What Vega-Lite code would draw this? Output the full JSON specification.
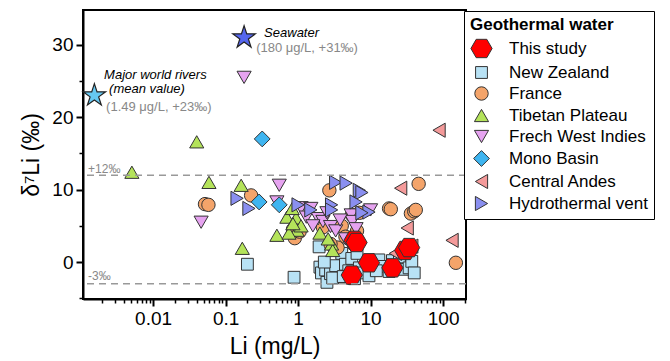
{
  "$schema": "https://vega.github.io/schema/vega-lite/v6.json",
  "width": 383,
  "height": 289,
  "autosize": "none",
  "padding": {"left": 83, "top": 10, "right": 204, "bottom": 62},
  "config": {
    "font": "Liberation Sans",
    "view": {"stroke": "black", "strokeWidth": 2}
  },
  "datasets": {
    "pts": [
      {"group": "New Zealand", "li": 0.20, "d7li": -0.3},
      {"group": "New Zealand", "li": 0.88, "d7li": -2.1},
      {"group": "New Zealand", "li": 1.95, "d7li": 2.1},
      {"group": "New Zealand", "li": 2.0, "d7li": -0.7},
      {"group": "New Zealand", "li": 2.1, "d7li": -1.5},
      {"group": "New Zealand", "li": 2.4, "d7li": -1.1},
      {"group": "New Zealand", "li": 2.5, "d7li": -2.8},
      {"group": "New Zealand", "li": 2.8, "d7li": -1.6},
      {"group": "New Zealand", "li": 3.3, "d7li": -0.5},
      {"group": "New Zealand", "li": 4.0, "d7li": 1.2},
      {"group": "New Zealand", "li": 4.5, "d7li": -0.3},
      {"group": "New Zealand", "li": 5.0, "d7li": -1.2},
      {"group": "New Zealand", "li": 5.5, "d7li": 0.5},
      {"group": "New Zealand", "li": 6.5, "d7li": 1.2},
      {"group": "New Zealand", "li": 7.0, "d7li": -0.8},
      {"group": "New Zealand", "li": 8.0, "d7li": -1.5},
      {"group": "New Zealand", "li": 9.5, "d7li": -1.9},
      {"group": "New Zealand", "li": 11, "d7li": -0.1},
      {"group": "New Zealand", "li": 13, "d7li": 0.3},
      {"group": "New Zealand", "li": 15, "d7li": -0.6},
      {"group": "New Zealand", "li": 18, "d7li": -1.3},
      {"group": "New Zealand", "li": 20, "d7li": 0.2},
      {"group": "New Zealand", "li": 25, "d7li": 0.7},
      {"group": "New Zealand", "li": 28, "d7li": -1.0},
      {"group": "New Zealand", "li": 34, "d7li": -0.8},
      {"group": "New Zealand", "li": 37, "d7li": 0.1},
      {"group": "New Zealand", "li": 40, "d7li": -1.5},
      {"group": "New Zealand", "li": 3.0, "d7li": -2.2},
      {"group": "New Zealand", "li": 4.2, "d7li": -2.0},
      {"group": "New Zealand", "li": 6.0, "d7li": -2.3},
      {"group": "New Zealand", "li": 2.3, "d7li": 0.0},
      {"group": "New Zealand", "li": 12, "d7li": -1.2},
      {"group": "France", "li": 0.052, "d7li": 8.0},
      {"group": "France", "li": 0.058, "d7li": 7.9},
      {"group": "France", "li": 0.225, "d7li": 9.2},
      {"group": "France", "li": 0.85, "d7li": 4.5},
      {"group": "France", "li": 0.9, "d7li": 3.3},
      {"group": "France", "li": 1.05, "d7li": 4.2},
      {"group": "France", "li": 2.7, "d7li": 9.9},
      {"group": "France", "li": 2.2, "d7li": 4.8},
      {"group": "France", "li": 4.0, "d7li": 5.0},
      {"group": "France", "li": 5.5, "d7li": 6.5},
      {"group": "France", "li": 7.0, "d7li": 6.8},
      {"group": "France", "li": 6.5, "d7li": 4.3},
      {"group": "France", "li": 3.5, "d7li": 2.0},
      {"group": "France", "li": 18, "d7li": 7.4},
      {"group": "France", "li": 19, "d7li": 7.3},
      {"group": "France", "li": 36, "d7li": 6.7},
      {"group": "France", "li": 40, "d7li": 7.0},
      {"group": "France", "li": 42, "d7li": 7.2},
      {"group": "France", "li": 46, "d7li": 10.8},
      {"group": "France", "li": 150, "d7li": -0.1},
      {"group": "France", "li": 2.8, "d7li": 2.5},
      {"group": "France", "li": 4.5, "d7li": 3.5},
      {"group": "Tibetan Plateau", "li": 0.0051, "d7li": 12.4},
      {"group": "Tibetan Plateau", "li": 0.040, "d7li": 16.6},
      {"group": "Tibetan Plateau", "li": 0.059, "d7li": 11.0},
      {"group": "Tibetan Plateau", "li": 0.164, "d7li": 10.6},
      {"group": "Tibetan Plateau", "li": 0.17, "d7li": 1.9},
      {"group": "Tibetan Plateau", "li": 0.51, "d7li": 3.7},
      {"group": "Tibetan Plateau", "li": 0.70, "d7li": 6.2},
      {"group": "Tibetan Plateau", "li": 0.94, "d7li": 6.1},
      {"group": "Tibetan Plateau", "li": 0.83, "d7li": 7.4},
      {"group": "Tibetan Plateau", "li": 0.97, "d7li": 4.4},
      {"group": "Tibetan Plateau", "li": 0.75, "d7li": 4.0},
      {"group": "Tibetan Plateau", "li": 1.1, "d7li": 5.0},
      {"group": "Tibetan Plateau", "li": 2.0, "d7li": 4.0},
      {"group": "Tibetan Plateau", "li": 2.9, "d7li": 2.5},
      {"group": "Tibetan Plateau", "li": 3.0, "d7li": 1.6},
      {"group": "Tibetan Plateau", "li": 2.6, "d7li": 3.2},
      {"group": "Tibetan Plateau", "li": 0.85, "d7li": 5.3},
      {"group": "Frech West Indies", "li": 0.18, "d7li": 25.5},
      {"group": "Frech West Indies", "li": 0.046, "d7li": 5.5},
      {"group": "Frech West Indies", "li": 0.55, "d7li": 10.6},
      {"group": "Frech West Indies", "li": 0.51, "d7li": 8.3},
      {"group": "Frech West Indies", "li": 1.1, "d7li": 7.5},
      {"group": "Frech West Indies", "li": 1.5, "d7li": 7.4},
      {"group": "Frech West Indies", "li": 1.3, "d7li": 6.2},
      {"group": "Frech West Indies", "li": 1.9, "d7li": 6.0},
      {"group": "Frech West Indies", "li": 2.2, "d7li": 5.6},
      {"group": "Frech West Indies", "li": 2.8, "d7li": 4.9},
      {"group": "Frech West Indies", "li": 3.3, "d7li": 4.3},
      {"group": "Frech West Indies", "li": 5.4, "d7li": 6.5},
      {"group": "Frech West Indies", "li": 5.6, "d7li": 5.6},
      {"group": "Frech West Indies", "li": 6.3, "d7li": 4.6},
      {"group": "Frech West Indies", "li": 10, "d7li": 7.2},
      {"group": "Frech West Indies", "li": 1.6, "d7li": 5.0},
      {"group": "Frech West Indies", "li": 3.8, "d7li": 5.8},
      {"group": "Frech West Indies", "li": 4.5, "d7li": 3.2},
      {"group": "Frech West Indies", "li": 2.5, "d7li": 6.8},
      {"group": "Mono Basin", "li": 0.32, "d7li": 17.0},
      {"group": "Mono Basin", "li": 0.29, "d7li": 8.3},
      {"group": "Mono Basin", "li": 0.55, "d7li": 7.9},
      {"group": "Central Andes", "li": 88, "d7li": 18.2},
      {"group": "Central Andes", "li": 26, "d7li": 10.2},
      {"group": "Central Andes", "li": 32, "d7li": 4.7},
      {"group": "Central Andes", "li": 133, "d7li": 3.0},
      {"group": "Central Andes", "li": 37, "d7li": 2.2},
      {"group": "Central Andes", "li": 22, "d7li": 1.2},
      {"group": "Hydrothermal vent", "li": 0.144, "d7li": 8.8},
      {"group": "Hydrothermal vent", "li": 0.21, "d7li": 7.4},
      {"group": "Hydrothermal vent", "li": 1.0, "d7li": 7.9},
      {"group": "Hydrothermal vent", "li": 3.3, "d7li": 11.0},
      {"group": "Hydrothermal vent", "li": 4.6, "d7li": 10.9},
      {"group": "Hydrothermal vent", "li": 7.0, "d7li": 9.9},
      {"group": "Hydrothermal vent", "li": 7.6, "d7li": 9.6},
      {"group": "Hydrothermal vent", "li": 6.3, "d7li": 8.3},
      {"group": "Hydrothermal vent", "li": 2.9, "d7li": 7.9},
      {"group": "Hydrothermal vent", "li": 2.9, "d7li": 7.2},
      {"group": "Hydrothermal vent", "li": 9.5, "d7li": 6.9},
      {"group": "Hydrothermal vent", "li": 7.6, "d7li": 6.8},
      {"group": "Hydrothermal vent", "li": 1.5, "d7li": 7.2},
      {"group": "This study", "li": 6.0, "d7li": 3.0},
      {"group": "This study", "li": 6.4, "d7li": 2.7},
      {"group": "This study", "li": 9.5, "d7li": -0.1},
      {"group": "This study", "li": 5.5, "d7li": -1.8},
      {"group": "This study", "li": 20, "d7li": -0.8},
      {"group": "This study", "li": 30, "d7li": 1.6},
      {"group": "This study", "li": 34, "d7li": 2.0}
    ],
    "stars": [
      {"name": "Seawater", "li": 0.18, "d7li": 31},
      {"name": "Major world rivers", "li": 0.00155, "d7li": 23}
    ],
    "refs": [
      {"d7li": 12, "li": 0.00127, "label": "+12‰", "ly": 12.9},
      {"d7li": -3, "li": 0.00127, "label": "-3‰", "ly": -1.9}
    ],
    "titles": [
      {"li": 0.34, "d7li": 31.6, "t": "Seawater"},
      {"li": 0.00211, "d7li": 25.8, "t": "Major world rivers"},
      {"li": 0.00247, "d7li": 23.9, "t": "(mean value)"}
    ],
    "values": [
      {"li": 0.264, "d7li": 29.5, "t": "(180 μg/L, +31‰)"},
      {"li": 0.00225, "d7li": 21.4, "t": "(1.49 μg/L, +23‰)"}
    ]
  },
  "layer": [
    {
      "data": {"name": "pts"},
      "mark": {"type": "point", "filled": true, "opacity": 1, "stroke": "#333333", "strokeWidth": 1},
      "encoding": {
        "x": {
          "field": "li", "type": "quantitative",
          "scale": {"type": "log", "domain": [0.00108, 207], "nice": false},
          "axis": {
            "title": "Li (mg/L)",
            "titleFontSize": 23, "titleFontWeight": "normal", "titleColor": "black", "titlePadding": 7,
            "values": [0.002,0.003,0.004,0.005,0.006,0.007,0.008,0.009,0.01,0.02,0.03,0.04,0.05,0.06,0.07,0.08,0.09,0.1,0.2,0.3,0.4,0.5,0.6,0.7,0.8,0.9,1,2,3,4,5,6,7,8,9,10,20,30,40,50,60,70,80,90,100,200],
            "labelExpr": "indexof([0.01,0.1,1,10,100], datum.value) >= 0 ? '' + datum.value : ''",
            "labelOverlap": false, "labelFlush": false,
            "labelFontSize": 19, "labelColor": "black", "labelPadding": 3,
            "tickSize": {"condition": {"test": "indexof([0.01,0.1,1,10,100], datum.value) >= 0", "value": 7}, "value": 4},
            "tickWidth": {"condition": {"test": "indexof([0.01,0.1,1,10,100], datum.value) >= 0", "value": 2}, "value": 1.5},
            "tickColor": "black", "domainColor": "black", "domainWidth": 2, "grid": false
          }
        },
        "y": {
          "field": "d7li", "type": "quantitative",
          "scale": {"domain": [-5.1, 34.8], "nice": false, "zero": false},
          "axis": {
            "title": "δ⁷Li (‰)",
            "titleFontSize": 23, "titleFontWeight": "normal", "titleColor": "black", "titlePadding": 8,
            "values": [-5, 0, 5, 10, 15, 20, 25, 30],
            "labelExpr": "datum.value % 10 == 0 ? '' + datum.value : ''",
            "labelFontSize": 19, "labelColor": "black", "labelPadding": 3,
            "tickSize": {"condition": {"test": "datum.value % 10 == 0", "value": 7}, "value": 4},
            "tickWidth": {"condition": {"test": "datum.value % 10 == 0", "value": 2}, "value": 1.5},
            "tickColor": "black", "domainColor": "black", "domainWidth": 2, "grid": false
          }
        },
        "color": {
          "field": "group", "type": "nominal",
          "scale": {
            "domain": ["This study", "New Zealand", "France", "Tibetan Plateau", "Frech West Indies", "Mono Basin", "Central Andes", "Hydrothermal vent"],
            "range": ["#ff0000", "#b8e2f5", "#f4a46a", "#b4e35a", "#e6a3f0", "#3fb5f0", "#f49a9a", "#8a8ff0"]
          },
          "legend": {"title": "Geothermal water", "orient": "none", "legendX": 381, "legendY": 1, "titleFontSize": 17, "titleFontWeight": "bold", "titleColor": "black", "labelFontSize": 17, "labelColor": "black", "strokeColor": "black", "fillColor": "white", "padding": 6, "rowPadding": 3, "labelOffset": 16, "titlePadding": 3, "symbolStrokeColor": "#333333", "symbolStrokeWidth": 1}
        },
        "shape": {
          "field": "group", "type": "nominal",
          "scale": {
            "domain": ["This study", "New Zealand", "France", "Tibetan Plateau", "Frech West Indies", "Mono Basin", "Central Andes", "Hydrothermal vent"],
            "range": ["M-1,0L-0.5,-0.866L0.5,-0.866L1,0L0.5,0.866L-0.5,0.866Z", "square", "circle", "triangle-up", "triangle-down", "diamond", "triangle-left", "triangle-right"]
          },
          "legend": {"title": "Geothermal water", "orient": "none", "legendX": 381, "legendY": 1, "titleFontSize": 17, "titleFontWeight": "bold", "titleColor": "black", "labelFontSize": 17, "labelColor": "black", "strokeColor": "black", "fillColor": "white", "padding": 6, "rowPadding": 3, "labelOffset": 16, "titlePadding": 3, "symbolStrokeColor": "#333333", "symbolStrokeWidth": 1}
        },
        "size": {
          "field": "group", "type": "nominal",
          "scale": {
            "type": "ordinal",
            "domain": ["This study", "New Zealand", "France", "Tibetan Plateau", "Frech West Indies", "Mono Basin", "Central Andes", "Hydrothermal vent"],
            "range": [450, 140, 180, 200, 200, 250, 200, 200]
          },
          "legend": {"title": "Geothermal water", "orient": "none", "legendX": 381, "legendY": 1, "titleFontSize": 17, "titleFontWeight": "bold", "titleColor": "black", "labelFontSize": 17, "labelColor": "black", "strokeColor": "black", "fillColor": "white", "padding": 6, "rowPadding": 3, "labelOffset": 16, "titlePadding": 3, "symbolStrokeColor": "#333333", "symbolStrokeWidth": 1}
        }
      }
    },
    {
      "data": {"name": "refs"},
      "mark": {"type": "rule", "color": "#999999", "strokeDash": [7, 5], "strokeWidth": 1.5},
      "encoding": {
        "y": {"field": "d7li", "type": "quantitative"}
      }
    },
    {
      "data": {"name": "refs"},
      "mark": {"type": "text", "align": "left", "baseline": "middle", "color": "#888888", "fontSize": 12},
      "encoding": {
        "x": {"field": "li", "type": "quantitative"},
        "y": {"field": "ly", "type": "quantitative"},
        "text": {"field": "label"}
      }
    },
    {
      "data": {"name": "stars"},
      "mark": {"type": "point", "filled": true, "opacity": 1, "stroke": "#222222", "strokeWidth": 1.2, "size": 560, "shape": "M0,-1L0.2245,-0.309L0.951,-0.309L0.363,0.118L0.588,0.809L0,0.382L-0.588,0.809L-0.363,0.118L-0.951,-0.309L-0.2245,-0.309Z"},
      "encoding": {
        "x": {"field": "li", "type": "quantitative"},
        "y": {"field": "d7li", "type": "quantitative"},
        "fill": {"field": "name", "type": "nominal", "scale": {"domain": ["Seawater", "Major world rivers"], "range": ["#5566ee", "#66c8f2"]}, "legend": null}
      }
    },
    {
      "data": {"name": "titles"},
      "mark": {"type": "text", "align": "left", "baseline": "middle", "fontStyle": "italic", "fontSize": 13, "color": "black"},
      "encoding": {
        "x": {"field": "li", "type": "quantitative"},
        "y": {"field": "d7li", "type": "quantitative"},
        "text": {"field": "t"}
      }
    },
    {
      "data": {"name": "values"},
      "mark": {"type": "text", "align": "left", "baseline": "middle", "fontSize": 13, "color": "#888888"},
      "encoding": {
        "x": {"field": "li", "type": "quantitative"},
        "y": {"field": "d7li", "type": "quantitative"},
        "text": {"field": "t"}
      }
    }
  ]
}
